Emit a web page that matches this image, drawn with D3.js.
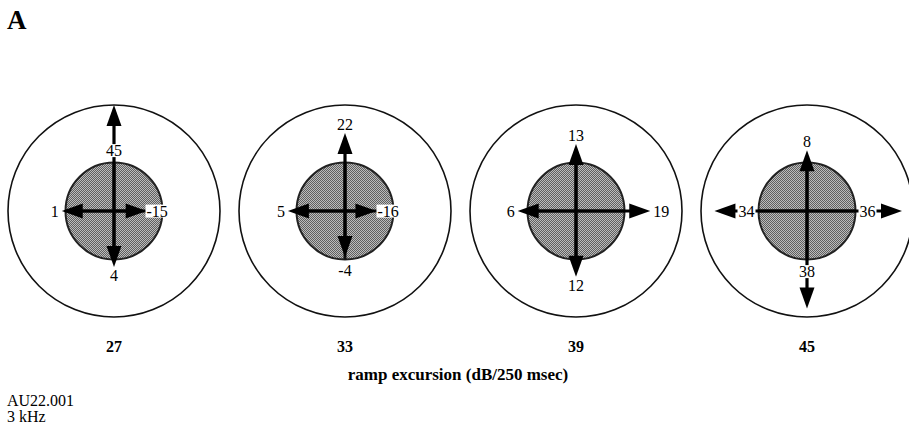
<!DOCTYPE html>
<html>
<head>
<meta charset="utf-8">
<script src="https://cdn.jsdelivr.net/npm/d3@7"></script>
<style>
  body { margin: 0; background: #fff; }
  text { font-family: "Liberation Serif", "Times New Roman", serif; fill: #000; }
</style>
</head>
<body>
<svg id="drawing_region"></svg>
<script>
// ramp excursion per panel (dB/250 msec)
const ramps = [27, 33, 39, 45];
// values at each arrow, one per panel
const upVals = [45, 22, 13, 8];
const rightVals = [-15, -16, 19, 36];
const downVals = [4, -4, 12, 38];
const leftVals = [1, 5, 6, 34];

const xlabel = 'ramp excursion (dB/250 msec)';
const noteLines = ['AU22.001', '3 kHz'];

class CrossChart {
    constructor (config) {
        this.config = {
            parent: config.parent,
            width: config.width || 909,
            height: config.height || 428,
            cy: config.cy || 211,
            outer: config.outer || 106,
            inner: config.inner || 48.5
        };
        this.init();
    }

    init() {
        let self = this;

        self.svg = d3.select(self.config.parent)
            .attr('width', self.config.width)
            .attr('height', self.config.height);

        // stipple texture for the inner disc
        const pat = self.svg.append('defs').append('pattern')
            .attr('id', 'stipple')
            .attr('width', 2).attr('height', 2)
            .attr('patternUnits', 'userSpaceOnUse');
        pat.append('rect').attr('width', 2).attr('height', 2).attr('fill', '#bcbcbc');
        pat.append('rect').attr('width', 1).attr('height', 1).attr('fill', '#606060');
        pat.append('rect').attr('x', 1).attr('y', 1).attr('width', 1).attr('height', 1).attr('fill', '#606060');

        self.xscale = d3.scalePoint()
            .domain(ramps)
            .range([114, 807]);

        // distance from centre of each arrow tip
        self.rscale = d3.scaleLinear()
            .domain([0, 45])
            .range([51, 106]);

        self.data = ramps.map((r, i) => ({
            ramp: r,
            arrows: [
                {dx: 0, dy: -1, v: upVals[i]},
                {dx: 1, dy: 0, v: rightVals[i]},
                {dx: 0, dy: 1, v: downVals[i]},
                {dx: -1, dy: 0, v: leftVals[i]}
            ]
        }));

        self.svg.append('text')
            .attr('x', 7).attr('y', 29)
            .style('font-size', '27px')
            .style('font-weight', 'bold')
            .text('A');

        self.svg.append('text')
            .attr('x', 458).attr('y', 380)
            .attr('text-anchor', 'middle')
            .style('font-size', '17px')
            .style('font-weight', 'bold')
            .text(xlabel);

        self.svg.selectAll('.note')
            .data(noteLines)
            .join('text')
            .attr('class', 'note')
            .attr('x', 7)
            .attr('y', (d, i) => 406 + i * 16)
            .style('font-size', '16px')
            .text(d => d);
    }

    render() {
        let self = this;
        const cy = self.config.cy;
        const r0 = self.config.inner;

        const panel = self.svg.selectAll('.panel')
            .data(self.data)
            .join('g')
            .attr('class', 'panel')
            .attr('transform', d => `translate(${self.xscale(d.ramp)}, ${cy})`);

        panel.append('circle')
            .attr('r', self.config.outer)
            .attr('fill', 'none')
            .attr('stroke', '#111')
            .attr('stroke-width', 1.6);

        panel.append('circle')
            .attr('r', r0)
            .attr('fill', 'url(#stipple)')
            .attr('stroke', '#222')
            .attr('stroke-width', 2);

        // crosshair
        panel.append('line')
            .attr('x1', -r0).attr('x2', r0)
            .attr('stroke', '#111').attr('stroke-width', 3);
        panel.append('line')
            .attr('y1', -r0).attr('y2', r0)
            .attr('stroke', '#111').attr('stroke-width', 3);

        panel.each(function(d) {
            const g = d3.select(this);
            d.arrows.forEach(a => {
                const tip = self.rscale(a.v);
                const px = a.dy, py = -a.dx;   // perpendicular
                g.append('line')
                    .attr('x1', 0).attr('y1', 0)
                    .attr('x2', a.dx * (tip - 10)).attr('y2', a.dy * (tip - 10))
                    .attr('stroke', '#000').attr('stroke-width', 3.2);
                const hl = 21, hw = 7.5;
                const bx = a.dx * (tip - hl), by = a.dy * (tip - hl);
                g.append('path')
                    .attr('d', `M${a.dx * tip},${a.dy * tip}L${bx + px * hw},${by + py * hw}L${bx - px * hw},${by - py * hw}Z`)
                    .attr('fill', '#000');

                // label placement
                const horiz = a.dx !== 0;
                let dist, anchor = 'middle', boxed = false;
                if (a.v > 30) {
                    dist = r0 + 12; boxed = true;
                } else if (a.v < 0) {
                    if (horiz) { dist = r0 - 16; anchor = a.dx > 0 ? 'start' : 'end'; boxed = true; }
                    else dist = r0 + 11;
                } else if (horiz) {
                    dist = tip + 3; anchor = a.dx > 0 ? 'start' : 'end';
                } else {
                    dist = tip + 9;
                }
                const t = g.append('text')
                    .attr('x', a.dx * dist)
                    .attr('y', a.dy * dist)
                    .attr('dy', '0.35em')
                    .attr('text-anchor', anchor)
                    .style('font-size', '16px')
                    .text(a.v);
                if (boxed) {
                    const bb = t.node().getBBox();
                    g.insert('rect', function() { return t.node(); })
                        .attr('x', bb.x - 1).attr('y', bb.y + 2)
                        .attr('width', bb.width + 2).attr('height', bb.height - 4)
                        .attr('fill', '#fff');
                }
            });
        });

        self.svg.selectAll('.ramp')
            .data(ramps)
            .join('text')
            .attr('class', 'ramp')
            .attr('x', d => self.xscale(d))
            .attr('y', 352)
            .attr('text-anchor', 'middle')
            .style('font-size', '16px')
            .style('font-weight', 'bold')
            .text(d => d);
    }
}

const chart = new CrossChart({parent: '#drawing_region', width: 909, height: 428});
chart.render();
</script>
</body>
</html>
